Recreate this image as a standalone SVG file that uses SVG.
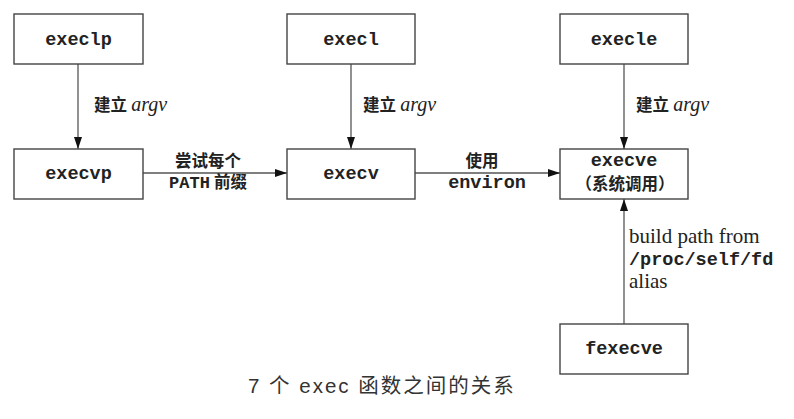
<svg xmlns="http://www.w3.org/2000/svg" width="794" height="419" viewBox="0 0 794 419">
<defs>
<marker id="ah" viewBox="0 0 12 8" refX="12" refY="4" markerWidth="12" markerHeight="8" markerUnits="userSpaceOnUse" orient="auto">
<path d="M0,0 L12,4 L0,8 Z" fill="#111"/>
</marker>
<style>
.box{fill:#fff;stroke:#444;stroke-width:1.4}
.mono{font-family:"Liberation Mono","DejaVu Sans Mono",monospace;font-weight:bold;font-size:18.5px;fill:#222}
.cjk{font-family:"Liberation Serif","Noto Sans CJK SC",serif;font-size:16.5px;fill:#222;font-weight:bold}
.it{font-family:"Liberation Serif",serif;font-style:italic;font-size:20px;fill:#222;font-weight:normal}
.serif{font-family:"Liberation Serif",serif;font-size:21px;fill:#222}
.cap{font-family:"Liberation Sans","Noto Sans CJK SC",sans-serif;font-size:20.5px;letter-spacing:2px;fill:#333}
.line{stroke:#555;stroke-width:1.3;fill:none;marker-end:url(#ah)}
</style>
</defs>
<rect width="794" height="419" fill="#fff"/>
<g id="connectors">
<line class="line" x1="78" y1="64" x2="78" y2="149"/>
<line class="line" x1="351" y1="64" x2="351" y2="149"/>
<line class="line" x1="624" y1="64" x2="624" y2="149"/>
<line class="line" x1="143" y1="173" x2="287" y2="173"/>
<line class="line" x1="415" y1="173" x2="560" y2="173"/>
<line class="line" x1="624" y1="324" x2="624" y2="199"/>
<text class="cjk" x="94" y="111">建立 <tspan class="it">argv</tspan></text>
<text class="cjk" x="363" y="111">建立 <tspan class="it">argv</tspan></text>
<text class="cjk" x="636" y="111">建立 <tspan class="it">argv</tspan></text>
<text class="cjk" x="208" y="167" text-anchor="middle">尝试每个</text>
<text class="cjk" x="208" y="188" text-anchor="middle"><tspan class="mono" style="font-size:17px">PATH</tspan> 前缀</text>
<text class="cjk" x="482" y="167" text-anchor="middle">使用</text>
<text class="mono" x="487" y="188" text-anchor="middle">environ</text>
<text class="serif" x="629" y="243">build path from</text>
<text class="mono" x="629" y="265">/proc/self/fd</text>
<text class="serif" x="629" y="288">alias</text>
</g>
<g id="execlp"><rect class="box" x="14" y="14" width="129" height="50"/><text class="mono" x="78.5" y="45" text-anchor="middle">execlp</text></g>
<g id="execl"><rect class="box" x="287" y="14" width="128" height="50"/><text class="mono" x="351" y="45" text-anchor="middle">execl</text></g>
<g id="execle"><rect class="box" x="560" y="14" width="128" height="50"/><text class="mono" x="624" y="45" text-anchor="middle">execle</text></g>
<g id="execvp"><rect class="box" x="14" y="149" width="129" height="50"/><text class="mono" x="78.5" y="179" text-anchor="middle">execvp</text></g>
<g id="execv"><rect class="box" x="287" y="149" width="128" height="50"/><text class="mono" x="351" y="179" text-anchor="middle">execv</text></g>
<g id="execve"><rect class="box" x="560" y="149" width="128" height="50"/><text class="mono" x="624" y="166" text-anchor="middle">execve</text><text class="cjk" x="625" y="190" text-anchor="middle">（系统调用）</text></g>
<g id="fexecve"><rect class="box" x="560" y="324" width="128" height="50"/><text class="mono" x="624" y="354" text-anchor="middle">fexecve</text></g>
<text class="cap" x="248" y="393">7 个 exec 函数之间的关系</text>
</svg>
